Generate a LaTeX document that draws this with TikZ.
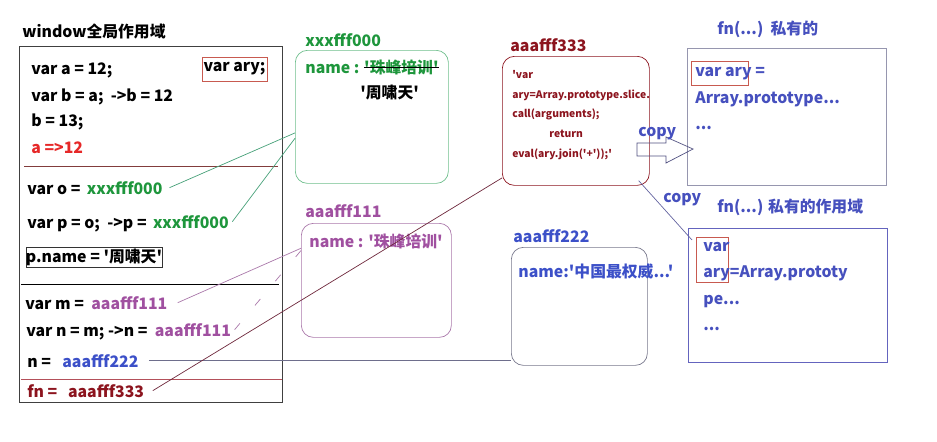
\documentclass[tikz,border=0pt]{standalone}
\usepackage{fontspec}
\setmainfont{Noto Sans CJK SC}[Ligatures=TeXOff]
\usetikzlibrary{arrows.meta,positioning,calc}
\definecolor{addrgreen}{RGB}{30,150,60}
\definecolor{gboxline}{RGB}{110,190,140}
\definecolor{glink}{RGB}{70,160,120}
\definecolor{addrpurple}{RGB}{160,80,160}
\definecolor{pboxline}{RGB}{170,120,170}
\definecolor{codered}{RGB}{230,40,40}
\definecolor{darkred}{RGB}{140,20,30}
\definecolor{fnlink}{RGB}{110,40,60}
\definecolor{addrblue}{RGB}{60,80,200}
\definecolor{gyboxline}{RGB}{120,120,140}
\definecolor{nlink}{RGB}{110,110,140}
\definecolor{fnblue}{RGB}{70,80,190}
\definecolor{topboxline}{RGB}{150,150,175}
\definecolor{botboxline}{RGB}{100,100,190}
\definecolor{markred}{RGB}{200,90,80}
\definecolor{sepred}{RGB}{130,60,60}
\definecolor{sepred2}{RGB}{180,80,90}
\definecolor{copylink}{RGB}{100,100,160}

\begin{document}
\begin{tikzpicture}[x=0.03cm, y=-0.03cm, line width=0.6pt,
    every node/.style={inner sep=0pt, anchor=base west, font=\bfseries\fontsize{13.5}{16}\selectfont},
    heapbox/.style={draw=#1, rounded corners=0.36cm, anchor=north west},
    markbox/.style={draw=markred, anchor=center},
    codeline/.style={text=darkred, font=\bfseries\fontsize{8.8}{10}\selectfont}]
    \useasboundingbox (0,0) rectangle (937,441);

    % global scope
    \node (title) at (22,37) {window全局作用域};
    \node[draw=black!75, anchor=north west, minimum width=7.89cm, minimum height=10.68cm] (win) at (19,46) {};
    \node (la) at (31,74) {var a = 12;};
    \node[markbox, minimum width=1.95cm, minimum height=0.72cm] (vary) at (234.5,69) {var ary;};
    \node (lb) at (31,101) {var b = a;\ \ ->b = 12};
    \node (lc) at (31,126) {b = 13;};
    \node[text=codered] (ld) at (31,153) {a =>12};
    \draw[sepred] (24,166) -- (278,166);
    \node (lo) at (27,194) {var o =};
    \node[text=addrgreen] (oaddr) at ([xshift=0.17cm]lo.base east) {xxxfff000};
    \node (lp) at (27,228) {var p = o;\ \ ->p =};
    \node[text=addrgreen] (paddr) at ([xshift=0.17cm]lp.base east) {xxxfff000};
    \node[draw=black!80, anchor=center, minimum width=4.02cm, minimum height=0.6cm] (pname) at (94,257) {p.name = '周啸天'};
    \draw[black] (21,284) -- (279,284);
    \node (lm) at (25,309) {var m =};
    \node[text=addrpurple] (maddr) at ([xshift=0.2cm]lm.base east) {aaafff111};
    \node (ln) at (26,336) {var n = m; ->n =};
    \node[text=addrpurple] (naddr) at ([xshift=0.2cm]ln.base east) {aaafff111};
    \node (lk) at (27,367) {n =};
    \node[text=addrblue] (kaddr) at ([xshift=0.32cm]lk.base east) {aaafff222};
    \draw[sepred2] (21,379) -- (282,379);
    \node[text=darkred] (lfn) at (27,397) {fn =};
    \node[text=darkred] (fnaddr) at ([xshift=0.3cm]lfn.base east) {aaafff333};

    % heap: objects
    \node[text=addrgreen] (glabel) at (305,46) {xxxfff000};
    \node[heapbox=gboxline, minimum width=4.59cm, minimum height=3.99cm] (gbox) at (295,50) {};
    \node[text=addrgreen] (gname) at (305,73) {name :};
    \node[text=addrgreen] (gold) at ([xshift=0.12cm]gname.base east) {'珠峰培训'};
    \draw[black] (gold.west) -- (gold.east);
    \node (gnew) at (360,98) {'周啸天'};

    \node[text=addrpurple] (plabel) at (305,217) {aaafff111};
    \node[heapbox=pboxline, minimum width=4.5cm, minimum height=3.42cm] (pbox) at (301,223) {};
    \node[text=addrpurple] (pname2) at (309,247) {name : '珠峰培训'};

    % heap: function
    \node[text=darkred] (dlabel) at (510,51) {aaafff333};
    \node[heapbox=darkred, minimum width=4.41cm, minimum height=3.87cm] (dbox) at (502,56) {};
    \node[codeline] (c1) at (512,78) {'var};
    \node[codeline] (c2) at (512,98) {ary=Array.prototype.slice.};
    \node[codeline] (c3) at (512,117) {call(arguments);};
    \node[codeline] (c4) at (549,137) {return};
    \node[codeline] (c5) at (512,157) {eval(ary.join('+'));'};

    \node[text=addrblue] (ylabel) at (513,242) {aaafff222};
    \node[heapbox=gyboxline, minimum width=4.08cm, minimum height=3.54cm] (gybox) at (511,247) {};
    \node[text=addrblue] (yname) at (518,277) {name:'中国最权威...'};

    % private scopes
    \node[text=fnblue] (t1) at (717,34) {fn(...)\ \ 私有的};
    \node[draw=topboxline, anchor=north west, minimum width=5.97cm, minimum height=4.11cm] (fbox1) at (687,48) {};
    \node[markbox, minimum width=1.71cm, minimum height=0.72cm] (m1) at (719.5,73) {};
    \node[text=fnblue] (f1a) at (695,76) {var ary =};
    \node[text=fnblue] (f1b) at (695,103) {Array.prototype...};
    \node[text=fnblue] (f1c) at (695,129) {...};

    \node[text=fnblue] (t2) at (717,212) {fn(...) 私有的作用域};
    \node[draw=botboxline, anchor=north west, minimum width=5.97cm, minimum height=4.02cm] (fbox2) at (688,228) {};
    \node[markbox, minimum width=0.96cm, minimum height=1.35cm] (m2) at (712,259.5) {};
    \node[text=fnblue] (f2a) at (703,251) {var};
    \node[text=fnblue] (f2b) at (703,277) {ary=Array.prototy};
    \node[text=fnblue] (f2c) at (703,304) {pe...};
    \node[text=fnblue] (f2d) at (703,330) {...};

    % copy
    \draw[copylink!80!black] (637,143) -- (666,143) -- (666,137) -- (693,149) -- (666,163) -- (666,156) -- (637,156) -- cycle;
    \node[text=fnblue] (cp1) at (638,136) {copy};
    \node[text=fnblue] (cp2) at (663,202) {copy};

    % references
    \draw[glink] ([xshift=0.2cm]oaddr.east) -- ($(gbox.north west)!0.62!(gbox.south west)$);
    \draw[glink] ([xshift=0.1cm]paddr.east) -- ($(gbox.north west)!0.66!(gbox.south west)$);
    \draw[pboxline] ([xshift=0.3cm]maddr.east) -- ($(pbox.north west)!0.22!(pbox.south west)$);
    \draw[pboxline, dash pattern=on 0.25cm off 0.7cm] ([xshift=0.1cm]naddr.east) -- ($(pbox.north west)!0.24!(pbox.south west)$);
    \draw[nlink] ([xshift=0.3cm]kaddr.east) -- (kaddr.east -| gybox.west);
    \draw[fnlink] ([xshift=0.25cm]fnaddr.east) -- ($(dbox.north west)!0.94!(dbox.south west)$);
    \draw[copylink] ($(dbox.south east)+(-11,-5)$) -- ($(fbox2.north west)+(4,12)$);
\end{tikzpicture}
\end{document}
